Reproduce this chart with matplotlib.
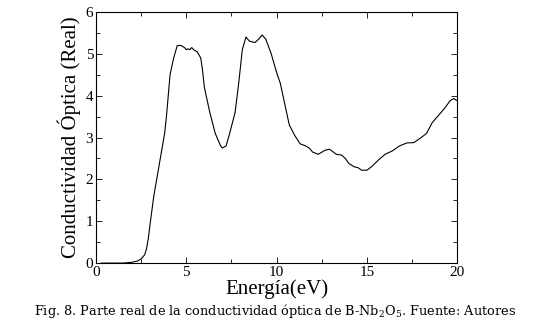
import matplotlib.pyplot as plt
from matplotlib.ticker import MultipleLocator

# Energy (eV) and real part of the optical conductivity
energy = [0.3, 1.0, 1.5, 2.0, 2.3, 2.5, 2.7, 2.8, 2.9, 3.0, 3.2, 3.4, 3.6, 3.8,
          3.9, 4.0, 4.1, 4.3, 4.5, 4.7, 4.9, 5.0, 5.1, 5.2, 5.3, 5.4, 5.6,
          5.8, 5.9, 6.0, 6.3, 6.6, 6.9, 7.0, 7.2, 7.4, 7.7, 7.9, 8.1, 8.3,
          8.5, 8.8, 9.0, 9.2, 9.4, 9.7, 10.0, 10.2, 10.5, 10.7, 11.0, 11.3,
          11.6, 11.8, 12.0, 12.3, 12.5, 12.7, 12.9, 13.0, 13.3, 13.6, 13.8,
          14.0, 14.3, 14.5, 14.7, 15.0, 15.3, 15.6, 16.0, 16.4, 16.8, 17.2,
          17.6, 18.0, 18.3, 18.6, 19.0, 19.3, 19.6, 19.8, 20.0]
sigma_real = [0.0, 0.0, 0.0, 0.02, 0.05, 0.1, 0.2, 0.35, 0.6, 0.95, 1.6, 2.1,
              2.6, 3.1, 3.5, 4.0, 4.5, 4.9, 5.2, 5.2, 5.15, 5.1, 5.12, 5.1,
              5.15, 5.1, 5.05, 4.9, 4.6, 4.2, 3.6, 3.1, 2.8, 2.75, 2.8, 3.1,
              3.6, 4.3, 5.1, 5.4, 5.3, 5.27, 5.35, 5.45, 5.35, 5.0, 4.55, 4.3,
              3.7, 3.3, 3.05, 2.85, 2.8, 2.75, 2.65, 2.6, 2.65, 2.7, 2.72,
              2.7, 2.6, 2.58, 2.5, 2.38, 2.3, 2.28, 2.22, 2.22, 2.32, 2.45,
              2.6, 2.68, 2.8, 2.87, 2.88, 3.0, 3.1, 3.35, 3.55, 3.7, 3.88,
              3.93, 3.88]

caption = "Fig. 8. Parte real de la conductividad óptica de B-Nb$_2$O$_5$. Fuente: Autores"

plt.rcParams["font.family"] = ["Liberation Serif", "DejaVu Serif"]
plt.rcParams["mathtext.fontset"] = "dejavuserif"

fig = plt.figure(figsize=(5.5, 3.24), dpi=100)
ax = fig.add_axes([0.1745, 0.188, 0.657, 0.775])

ax.plot(energy, sigma_real, color="black", linewidth=0.8)

ax.set_xlim(0, 20)
ax.set_ylim(0, 6)
ax.xaxis.set_major_locator(MultipleLocator(5))
ax.xaxis.set_minor_locator(MultipleLocator(2.5))
ax.yaxis.set_major_locator(MultipleLocator(1))
ax.yaxis.set_minor_locator(MultipleLocator(0.5))
ax.tick_params(which="both", direction="in", top=True, right=True,
               labelsize=11, pad=2, width=0.6)
ax.tick_params(which="major", length=4)
ax.tick_params(which="minor", length=3)
for s in ax.spines.values():
    s.set_linewidth(0.8)

ax.set_xlabel("Energía(eV)", fontsize=15, labelpad=0)
ax.set_ylabel("Conductividad Óptica (Real)", fontsize=15, labelpad=3)

fig.text(0.5, 0.04, caption, ha="center", va="center", fontsize=9.3,
         family="DejaVu Serif")

fig.savefig("out.png", dpi=100)
